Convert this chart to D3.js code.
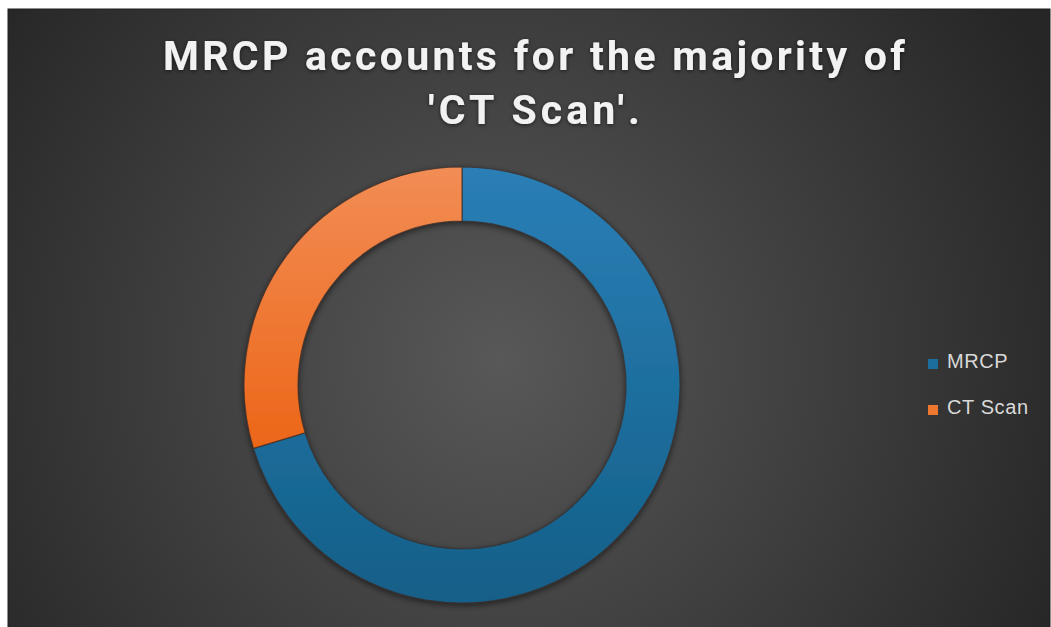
<!DOCTYPE html>
<html>
<head>
<meta charset="utf-8">
<script src="https://cdn.jsdelivr.net/npm/d3@7"></script>
<style>
  html, body { margin: 0; padding: 0; background: #ffffff; }
  svg { display: block; }
</style>
</head>
<body>
<svg id="chart" width="1051" height="627"></svg>
<script>
// Share of imaging modality
const categories = ["MRCP", "CT Scan"];
const values = [70.3, 29.7];
const colors = ["#1b6e9e", "#f0772f"];
const titleLines = ["MRCP accounts for the majority of", "'CT Scan'."];

const svg = d3.select("#chart");
const frame = { x: 8, y: 9, w: 1042, h: 620 };

const defs = svg.append("defs");

// Dark radial background
const bg = defs.append("radialGradient").attr("id", "bgGrad")
  .attr("gradientUnits", "userSpaceOnUse")
  .attr("cx", 500).attr("cy", 360).attr("r", 620);
bg.append("stop").attr("offset", "0%").attr("stop-color", "#585858");
bg.append("stop").attr("offset", "55%").attr("stop-color", "#3d3d3d");
bg.append("stop").attr("offset", "100%").attr("stop-color", "#262626");

svg.append("rect")
  .attr("x", frame.x).attr("y", frame.y)
  .attr("width", frame.w).attr("height", frame.h)
  .attr("fill", "url(#bgGrad)")
  .attr("stroke", "#1e1e1e").attr("stroke-width", 1);

// Per-slice vertical shading
const shade = [
  { id: "g0", top: "#2a7fb6", bottom: "#135f88" },
  { id: "g1", top: "#f28d55", bottom: "#ec6618" }
];
shade.forEach(s => {
  const g = defs.append("linearGradient").attr("id", s.id)
    .attr("x1", 0).attr("y1", 0).attr("x2", 0).attr("y2", 1);
  g.append("stop").attr("offset", "0%").attr("stop-color", s.top);
  g.append("stop").attr("offset", "100%").attr("stop-color", s.bottom);
});

const shadow = defs.append("filter").attr("id", "shadow")
  .attr("x", "-20%").attr("y", "-20%").attr("width", "140%").attr("height", "140%");
shadow.append("feDropShadow")
  .attr("dx", 0).attr("dy", 2).attr("stdDeviation", 3)
  .attr("flood-color", "#000").attr("flood-opacity", 0.55);

const textShadow = defs.append("filter").attr("id", "textShadow")
  .attr("x", "-5%").attr("y", "-30%").attr("width", "110%").attr("height", "160%");
textShadow.append("feDropShadow")
  .attr("dx", 0).attr("dy", 1).attr("stdDeviation", 2)
  .attr("flood-color", "#000").attr("flood-opacity", 0.6);

// Title
const title = svg.append("g")
  .attr("font-family", "Roboto, 'Liberation Sans', sans-serif")
  .attr("font-weight", "bold")
  .attr("font-size", 41)
  .attr("fill", "#f2f2f2")
  .attr("text-anchor", "middle")
  .attr("filter", "url(#textShadow)");
const titleW = [742, 212];
titleLines.forEach((t, i) => {
  title.append("text")
    .attr("x", 534).attr("y", 70 + i * 54)
    .attr("textLength", titleW[i])
    .attr("lengthAdjust", "spacing")
    .text(t);
});

// Donut
const cx = 462, cy = 385, outerR = 218, innerR = 164;
const pie = d3.pie().sort(null).value(d => d);
const arc = d3.arc().innerRadius(innerR).outerRadius(outerR);
const arcs = pie(values);

const donut = svg.append("g")
  .attr("transform", `translate(${cx},${cy})`)
  .attr("filter", "url(#shadow)");
donut.selectAll("path")
  .data(arcs)
  .join("path")
  .attr("d", arc)
  .attr("fill", (d, i) => `url(#${shade[i].id})`)
  .attr("stroke", "#3a2c28")
  .attr("stroke-width", 1.2)
  .attr("stroke-opacity", 0.7);

// Legend
const legend = svg.append("g")
  .attr("font-family", "'Liberation Sans', Arial, sans-serif")
  .attr("font-size", 20)
  .attr("letter-spacing", 0.6)
  .attr("fill", "#d9d9d9");
const legY = d3.scalePoint().domain(categories).range([364, 410]);
categories.forEach((c, i) => {
  const y = legY(c);
  legend.append("rect")
    .attr("x", 928).attr("y", y - 5)
    .attr("width", 10).attr("height", 10)
    .attr("fill", colors[i]);
  legend.append("text")
    .attr("x", 947).attr("y", y + 4)
    .text(c);
});
</script>
</body>
</html>
